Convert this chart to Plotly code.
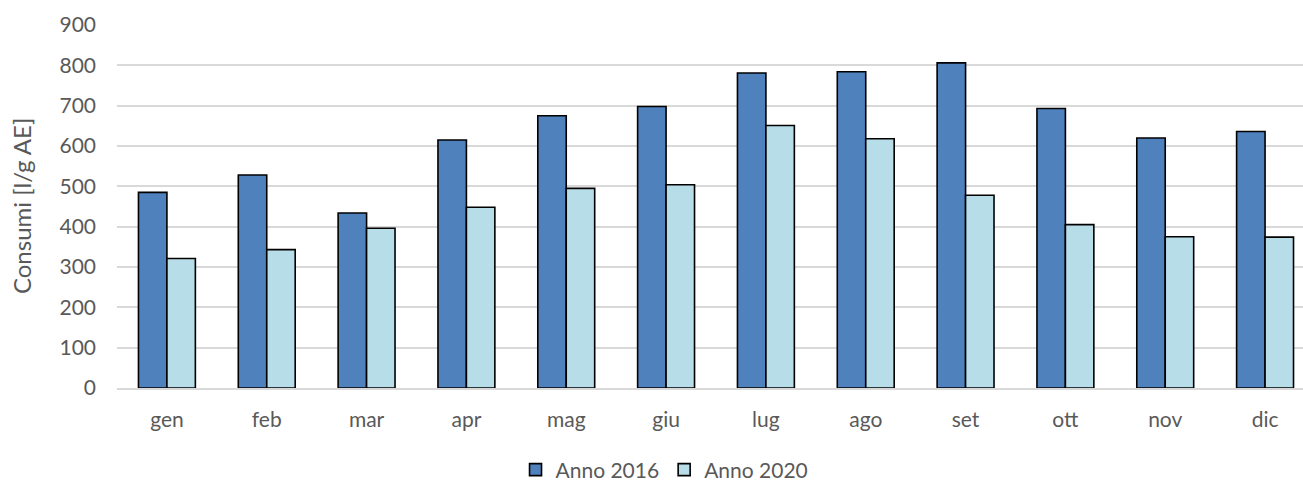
import plotly.graph_objects as go

months = ["gen", "feb", "mar", "apr", "mag", "giu", "lug", "ago", "set", "ott", "nov", "dic"]
anno_2016 = [485, 528, 434, 615, 675, 698, 781, 784, 806, 693, 620, 636]
anno_2020 = [321, 343, 396, 448, 495, 504, 651, 618, 478, 405, 375, 374]
y_ticks = [0, 100, 200, 300, 400, 500, 600, 700, 800, 900]

FONT = "Lato, 'Open Sans', sans-serif"
GREY = "#595959"

fig = go.Figure()
fig.add_trace(go.Bar(name="Anno 2016", x=months, y=anno_2016,
                     marker=dict(color="#4F81BD", line=dict(color="#000000", width=1.6))))
fig.add_trace(go.Bar(name="Anno 2020", x=months, y=anno_2020,
                     marker=dict(color="#B7DDE8", line=dict(color="#000000", width=1.6))))

fig.update_layout(
    width=1303, height=482,
    margin=dict(l=117, r=0, t=25, b=94, autoexpand=False),
    paper_bgcolor="white", plot_bgcolor="white",
    barmode="group", bargap=0.43, bargroupgap=0,
    font=dict(family=FONT, size=21, color=GREY),
    showlegend=True,
    legend=dict(orientation="h", xref="container", yref="container",
                x=0.51, xanchor="center", y=0.025, yanchor="middle",
                font=dict(size=21, color=GREY), traceorder="normal"),
    xaxis=dict(range=[-0.5, 11.38], showgrid=False, showline=True,
               linecolor="#D9D9D9", linewidth=1.5, ticks="", ticklabelstandoff=12,
               tickfont=dict(size=21, color=GREY)),
    yaxis=dict(range=[0, 900], tickvals=y_ticks, showgrid=True, gridcolor="#D9D9D9",
               gridwidth=1.5, zeroline=False, showline=False, ticks="",
               ticklabelstandoff=20, tickfont=dict(size=21, color=GREY)),
    annotations=[dict(text="Consumi [l/g AE]", textangle=-90, xref="paper", yref="paper",
                      x=-0.0805, y=0.5, xanchor="center", yanchor="middle", showarrow=False,
                      font=dict(size=24, color=GREY))],
)

fig.write_html("out.html", config={"displayModeBar": False},
               post_script="document.body.style.margin='0';document.body.style.padding='0';")
